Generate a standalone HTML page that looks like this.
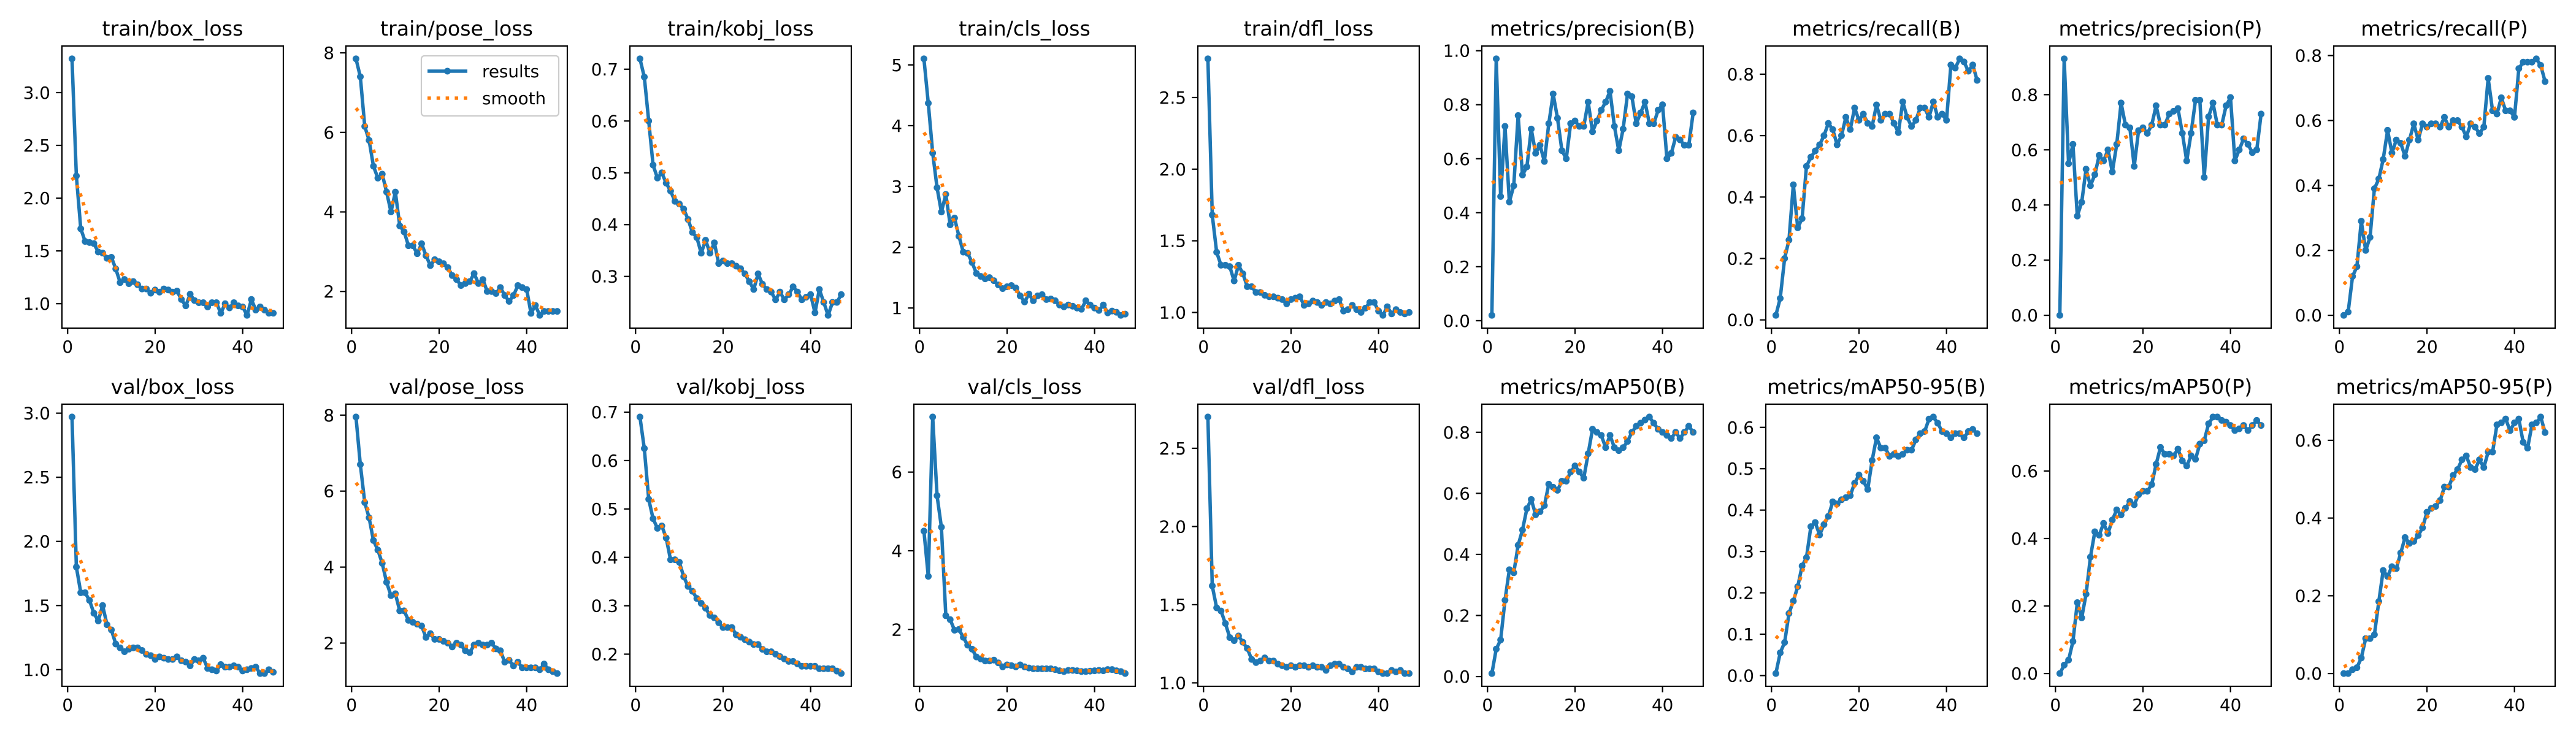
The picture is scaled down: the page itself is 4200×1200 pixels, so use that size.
<!DOCTYPE html>
<html><head><meta charset="utf-8"><style>
html,body{margin:0;padding:0;background:#fff;}
svg{display:block;font-family:"DejaVu Sans","Liberation Sans",sans-serif;}
</style></head><body>
<svg id="fig" width="4200" height="1200" viewBox="0 0 4200 1200" xmlns="http://www.w3.org/2000/svg">
<rect width="4200" height="1200" fill="#fff"/>
</svg>
<script>
const titles = ["train/box_loss","train/pose_loss","train/kobj_loss","train/cls_loss","train/dfl_loss","metrics/precision(B)","metrics/recall(B)","metrics/precision(P)","metrics/recall(P)",
"val/box_loss","val/pose_loss","val/kobj_loss","val/cls_loss","val/dfl_loss","metrics/mAP50(B)","metrics/mAP50-95(B)","metrics/mAP50(P)","metrics/mAP50-95(P)"];
const trainBox = [3.32,2.21,1.71,1.59,1.58,1.57,1.49,1.48,1.43,1.44,1.33,1.20,1.23,1.19,1.21,1.18,1.14,1.14,1.10,1.13,1.11,1.14,1.13,1.11,1.12,1.04,0.98,1.09,1.03,1.01,1.01,0.97,1.01,1.01,0.91,1.00,0.96,1.01,0.98,0.97,0.89,1.04,0.94,0.97,0.94,0.91,0.91];
const trainPose = [7.85,7.4,6.15,5.8,5.15,4.85,4.95,4.5,4.0,4.5,3.65,3.5,3.15,3.15,2.95,3.2,2.9,2.65,2.8,2.75,2.7,2.6,2.4,2.3,2.15,2.2,2.25,2.45,2.2,2.3,2.0,2.0,1.95,2.1,1.9,1.75,1.9,2.15,2.1,2.05,1.45,1.65,1.4,1.5,1.5,1.5,1.5];
const trainKobj = [0.72,0.685,0.60,0.515,0.49,0.50,0.48,0.465,0.445,0.44,0.43,0.41,0.385,0.375,0.345,0.37,0.345,0.365,0.325,0.33,0.325,0.325,0.32,0.315,0.305,0.29,0.275,0.305,0.285,0.275,0.27,0.255,0.27,0.255,0.265,0.28,0.27,0.255,0.26,0.265,0.23,0.275,0.25,0.225,0.25,0.25,0.265];
const trainCls = [5.1,4.37,3.55,2.98,2.58,2.87,2.37,2.48,2.18,1.92,1.9,1.75,1.57,1.52,1.48,1.5,1.45,1.38,1.32,1.35,1.37,1.33,1.2,1.1,1.23,1.12,1.2,1.22,1.14,1.15,1.12,1.05,1.02,1.05,1.03,1.0,0.98,1.12,1.05,1.0,0.96,1.05,0.92,0.95,0.93,0.88,0.9];
const trainDfl = [2.77,1.68,1.42,1.33,1.33,1.32,1.22,1.33,1.27,1.18,1.18,1.14,1.14,1.12,1.11,1.11,1.10,1.09,1.06,1.09,1.1,1.11,1.05,1.06,1.08,1.07,1.05,1.07,1.06,1.08,1.09,1.01,1.02,1.05,1.02,1.0,1.03,1.07,1.07,1.01,0.98,1.04,0.99,1.02,1.0,0.99,1.0];
const precB = [0.02,0.97,0.46,0.72,0.44,0.50,0.76,0.54,0.57,0.71,0.62,0.65,0.59,0.73,0.84,0.75,0.63,0.60,0.73,0.74,0.72,0.72,0.81,0.70,0.74,0.78,0.81,0.85,0.72,0.63,0.71,0.84,0.83,0.73,0.77,0.81,0.73,0.73,0.78,0.80,0.60,0.62,0.68,0.67,0.65,0.65,0.77];
const recB = [0.015,0.07,0.20,0.26,0.44,0.30,0.33,0.50,0.53,0.55,0.57,0.60,0.64,0.62,0.57,0.60,0.66,0.62,0.69,0.65,0.67,0.64,0.63,0.70,0.65,0.67,0.67,0.64,0.61,0.71,0.66,0.63,0.65,0.69,0.69,0.66,0.71,0.66,0.67,0.65,0.83,0.82,0.85,0.84,0.81,0.83,0.78];
const precP = [0.0,0.93,0.55,0.62,0.36,0.41,0.53,0.47,0.51,0.58,0.56,0.60,0.52,0.62,0.77,0.69,0.68,0.54,0.67,0.68,0.66,0.69,0.76,0.69,0.69,0.73,0.74,0.75,0.66,0.56,0.66,0.78,0.78,0.50,0.72,0.77,0.69,0.69,0.76,0.79,0.56,0.60,0.64,0.62,0.59,0.60,0.73];
const recP = [0.0,0.01,0.12,0.15,0.29,0.20,0.24,0.39,0.42,0.48,0.57,0.50,0.54,0.53,0.49,0.54,0.59,0.54,0.59,0.58,0.59,0.59,0.58,0.61,0.58,0.60,0.60,0.58,0.55,0.59,0.58,0.56,0.58,0.73,0.63,0.62,0.67,0.63,0.63,0.61,0.76,0.78,0.78,0.78,0.79,0.77,0.72];
const valBox = [2.97,1.80,1.60,1.60,1.54,1.44,1.38,1.50,1.35,1.31,1.20,1.17,1.14,1.16,1.17,1.17,1.15,1.12,1.11,1.08,1.10,1.09,1.08,1.08,1.10,1.07,1.06,1.03,1.08,1.07,1.09,1.01,1.00,0.99,1.04,1.02,1.02,1.03,1.02,0.99,1.00,1.01,1.02,0.97,0.97,1.00,0.98];
const valPose = [7.95,6.7,5.7,5.3,4.7,4.45,4.1,3.6,3.25,3.3,2.85,2.85,2.6,2.55,2.5,2.45,2.15,2.25,2.1,2.1,2.05,2.0,1.9,2.0,1.95,1.8,1.75,1.95,2.0,1.95,1.95,2.0,1.85,1.8,1.5,1.55,1.4,1.5,1.35,1.35,1.35,1.35,1.3,1.45,1.3,1.25,1.2];
const valKobj = [0.69,0.625,0.52,0.48,0.46,0.465,0.44,0.395,0.395,0.39,0.36,0.34,0.33,0.315,0.305,0.295,0.28,0.275,0.265,0.255,0.255,0.255,0.24,0.235,0.23,0.225,0.22,0.22,0.21,0.205,0.205,0.20,0.195,0.19,0.185,0.185,0.18,0.175,0.175,0.175,0.175,0.17,0.17,0.17,0.17,0.165,0.16];
const valCls = [4.5,3.35,7.4,5.4,4.6,2.35,2.25,1.98,2.0,1.8,1.6,1.5,1.3,1.25,1.2,1.2,1.22,1.15,1.05,1.1,1.08,1.05,1.1,1.05,1.02,1.0,1.0,1.0,1.0,1.0,0.98,0.95,0.93,0.96,0.96,0.95,0.93,0.93,0.94,0.95,0.96,0.95,0.98,0.98,0.95,0.93,0.88];
const valDfl = [2.7,1.62,1.48,1.46,1.38,1.29,1.27,1.3,1.26,1.22,1.15,1.13,1.14,1.16,1.14,1.14,1.12,1.11,1.1,1.11,1.1,1.11,1.11,1.1,1.11,1.1,1.1,1.08,1.11,1.12,1.12,1.1,1.09,1.07,1.1,1.1,1.09,1.09,1.09,1.07,1.06,1.06,1.08,1.07,1.08,1.06,1.06];
const map50B = [0.01,0.09,0.12,0.25,0.35,0.34,0.43,0.48,0.55,0.58,0.53,0.54,0.56,0.63,0.62,0.61,0.64,0.64,0.67,0.69,0.67,0.65,0.73,0.81,0.80,0.79,0.75,0.79,0.75,0.74,0.75,0.77,0.80,0.82,0.83,0.84,0.85,0.83,0.81,0.80,0.79,0.78,0.80,0.78,0.80,0.82,0.80];
const map5095B = [0.005,0.055,0.08,0.15,0.18,0.215,0.265,0.285,0.36,0.37,0.34,0.365,0.385,0.42,0.415,0.425,0.43,0.435,0.465,0.485,0.47,0.45,0.52,0.575,0.55,0.55,0.53,0.535,0.53,0.535,0.545,0.545,0.57,0.585,0.59,0.62,0.625,0.61,0.59,0.585,0.575,0.585,0.585,0.575,0.59,0.595,0.585];
const map50P = [0.0,0.025,0.04,0.095,0.21,0.165,0.235,0.345,0.42,0.41,0.445,0.415,0.455,0.485,0.47,0.49,0.51,0.50,0.53,0.54,0.54,0.56,0.62,0.67,0.65,0.65,0.645,0.665,0.63,0.615,0.645,0.635,0.68,0.69,0.74,0.76,0.76,0.75,0.745,0.735,0.72,0.725,0.735,0.72,0.735,0.75,0.735];
const map5095P = [0.0,0.0,0.01,0.015,0.04,0.09,0.09,0.10,0.185,0.265,0.25,0.275,0.27,0.31,0.35,0.335,0.34,0.355,0.375,0.415,0.425,0.43,0.445,0.48,0.48,0.51,0.525,0.55,0.56,0.53,0.525,0.55,0.53,0.57,0.57,0.64,0.645,0.655,0.625,0.645,0.655,0.595,0.58,0.64,0.645,0.66,0.62];
const series = [trainBox,trainPose,trainKobj,trainCls,trainDfl,precB,recB,precP,recP,valBox,valPose,valKobj,valCls,valDfl,map50B,map5095B,map50P,map5095P];
const yTicks = [[1.0,1.5,2.0,2.5,3.0],[2,4,6,8],[0.3,0.4,0.5,0.6,0.7],[1,2,3,4,5],[1.0,1.5,2.0,2.5],[0.0,0.2,0.4,0.6,0.8,1.0],[0.0,0.2,0.4,0.6,0.8],[0.0,0.2,0.4,0.6,0.8],[0.0,0.2,0.4,0.6,0.8],
[1.0,1.5,2.0,2.5,3.0],[2,4,6,8],[0.2,0.3,0.4,0.5,0.6,0.7],[2,4,6],[1.0,1.5,2.0,2.5],[0.0,0.2,0.4,0.6,0.8],[0.0,0.1,0.2,0.3,0.4,0.5,0.6],[0.0,0.2,0.4,0.6],[0.0,0.2,0.4,0.6]];
const yDecimals = [1,0,1,0,1,1,1,1,1,1,0,1,0,1,1,1,1,1];
const xTicks = [0,20,40];

const NS="http://www.w3.org/2000/svg";
const svg=document.getElementById('fig');
function mk(tag,attrs,parent){const e=document.createElementNS(NS,tag);for(const k in attrs)e.setAttribute(k,attrs[k]);(parent||svg).appendChild(e);return e;}
function gauss(y,s){const r=Math.round(4*s);const w=[];let sum=0;for(let i=-r;i<=r;i++){const v=Math.exp(-0.5*i*i/(s*s));w.push(v);sum+=v;}
 const n=y.length;const idx=i=>{while(i<0||i>=n){if(i<0)i=-i-1;if(i>=n)i=2*n-i-1;}return i;};
 return y.map((_,j)=>{let a=0;for(let i=-r;i<=r;i++)a+=w[i+r]*y[idx(j+i)];return a/sum;});}

const AX_L=101,PITCH=463,AX_W=361,AX_H=460,TOPS=[75,659];
series.forEach((vals,p)=>{
  const col=p%9,row=Math.floor(p/9);
  const L=AX_L+PITCH*col,T=TOPS[row],R=L+AX_W,B=T+AX_H;
  const g=mk('g',{});
  
  
  const n=vals.length;
  const x0=1-0.05*(n-1),x1=n+0.05*(n-1);
  const mn=Math.min(...vals),mx=Math.max(...vals),rg=mx-mn;
  const y0=mn-0.05*rg,y1=mx+0.05*rg;
  const X=v=>L+(v-x0)/(x1-x0)*AX_W, Y=v=>B-(v-y0)/(y1-y0)*AX_H;
  const t=mk('text',{x:(L+R)/2,y:T-17,'text-anchor':'middle','font-size':'33.3'},g);t.textContent=titles[p];
  
  xTicks.forEach(v=>{const x=X(v);mk('line',{x1:x,x2:x,y1:B,y2:B+9.7,stroke:'#000','stroke-width':2.2},g);
    const tx=mk('text',{x:x,y:B+40,'text-anchor':'middle','font-size':'27.8'},g);tx.textContent=v;
    });
  yTicks[p].forEach(v=>{const y=Y(v);mk('line',{x1:L-9.7,x2:L,y1:y,y2:y,stroke:'#000','stroke-width':2.2},g);
    const ty=mk('text',{x:L-19,y:y+10,'text-anchor':'end','font-size':'27.8'},g);ty.textContent=v.toFixed(yDecimals[p]);
    });
  const clip='c'+p;const cp=mk('clipPath',{id:clip},g);mk('rect',{x:L,y:T,width:AX_W,height:AX_H},cp);
  const pts=vals.map((v,i)=>X(i+1).toFixed(1)+','+Y(v).toFixed(1)).join(' ');
  const ln=mk('polyline',{points:pts,fill:'none',stroke:'#1f77b4','stroke-width':5.6,'stroke-linejoin':'round','clip-path':'url(#'+clip+')'},g);
  
  vals.forEach((v,i)=>{const c=mk('circle',{cx:X(i+1),cy:Y(v),r:5.5,fill:'#1f77b4'},g);
    });
  const sm=gauss(vals,3);
  const sp=mk('polyline',{points:sm.map((v,i)=>X(i+1).toFixed(1)+','+Y(v).toFixed(1)).join(' '),fill:'none',stroke:'#ff7f0e','stroke-width':5.6,'stroke-dasharray':'5.6 9.2','clip-path':'url(#'+clip+')'},g);
  
  const fr=mk('rect',{x:L,y:T,width:AX_W,height:AX_H,fill:'none',stroke:'#000','stroke-width':2.2},g);
  
  if(p===1){
    const lg=mk('g',{},g);
    mk('rect',{x:687,y:91,width:224,height:98,rx:5,fill:'#fff','fill-opacity':0.8,stroke:'#ccc','stroke-width':2.2},lg);
    mk('line',{x1:697,x2:762,y1:116,y2:116,stroke:'#1f77b4','stroke-width':5.6},lg);
    mk('circle',{cx:729.5,cy:116,r:5.5,fill:'#1f77b4'},lg);
    const a=mk('text',{x:786,y:126,'font-size':'27.8'},lg);a.textContent='results';
    
    mk('line',{x1:697,x2:762,y1:160,y2:160,stroke:'#ff7f0e','stroke-width':5.6,'stroke-dasharray':'5.6 9.2'},lg);
    const b=mk('text',{x:786,y:170,'font-size':'27.8'},lg);b.textContent='smooth';
    
  }
});
</script>
</body></html>
